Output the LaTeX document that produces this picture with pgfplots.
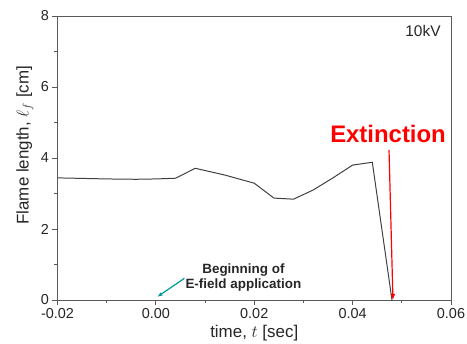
\documentclass[border=0pt]{standalone}
\usepackage{pgfplots}
\pgfplotsset{compat=1.18}
\usetikzlibrary{arrows.meta}
\usepackage{fontspec}
\setmainfont{Liberation Sans}
\begin{document}
\begin{tikzpicture}
\begin{axis}[
  name=ax,
  scale only axis,
  width=393.5bp, height=284bp,
  xmin=-0.02, xmax=0.06, ymin=0, ymax=8,
  xtick={-0.02,0,0.02,0.04,0.06},
  xticklabels={-0.02,0.00,0.02,0.04,0.06},
  minor xtick={-0.01,0.01,0.03,0.05},
  ytick={0,2,4,6,8},
  minor ytick={1,3,5,7},
  tick pos=left, tick align=outside,
  major tick length=5bp, minor tick length=3bp,
  axis line style={gray!70!black, line width=0.8pt},
  tick style={gray!70!black, line width=0.8pt},
  /pgf/number format/assume math mode=true,
  ticklabel style={font=\fontsize{14.5}{16}\selectfont, text=black!85},
  scaled x ticks=false,
  xlabel={time, $t$ [sec]},
  ylabel={Flame length, $\ell_f$ [cm]},
  label style={font=\fontsize{17}{18}\selectfont, text=black!85},
  ylabel style={at={(axis description cs:-0.083,0.545)}, anchor=center},
  clip=false,
]
\addplot[black!75, line width=1pt] coordinates {
(-0.02,3.44) (-0.01,3.41) (-0.004,3.40) (0.0,3.41) (0.004,3.43)
(0.008,3.71) (0.014,3.52) (0.020,3.29) (0.024,2.87) (0.028,2.84)
(0.032,3.10) (0.036,3.44) (0.040,3.80) (0.044,3.88) (0.048,0.0)
};
\draw[red, line width=1.2pt, -{Latex[length=6bp,width=5bp]}] (axis cs:0.0474,4.23) -- (axis cs:0.0482,0.0);
\node[red, font=\fontsize{24}{26}\selectfont\bfseries] at (axis cs:0.0472,4.68) {Extinction};
\node[font=\fontsize{15.5}{17}\selectfont, text=black!85] at (axis cs:0.0543,7.58) {10kV};
\draw[teal!80!cyan, line width=1.2pt, -{Latex[length=5bp,width=4bp]}] (axis cs:0.0058,0.61) -- (axis cs:0.0003,0.09);
\node[font=\fontsize{13.5}{15}\selectfont\bfseries, text=black!85, align=center] at (axis cs:0.0178,0.63) {Beginning of\\E-field application};
\end{axis}
\pgfresetboundingbox
\path[use as bounding box] ([xshift=-57.5bp,yshift=-44bp]ax.south west) rectangle ([xshift=16bp,yshift=16bp]ax.north east);
\end{tikzpicture}
\end{document}
